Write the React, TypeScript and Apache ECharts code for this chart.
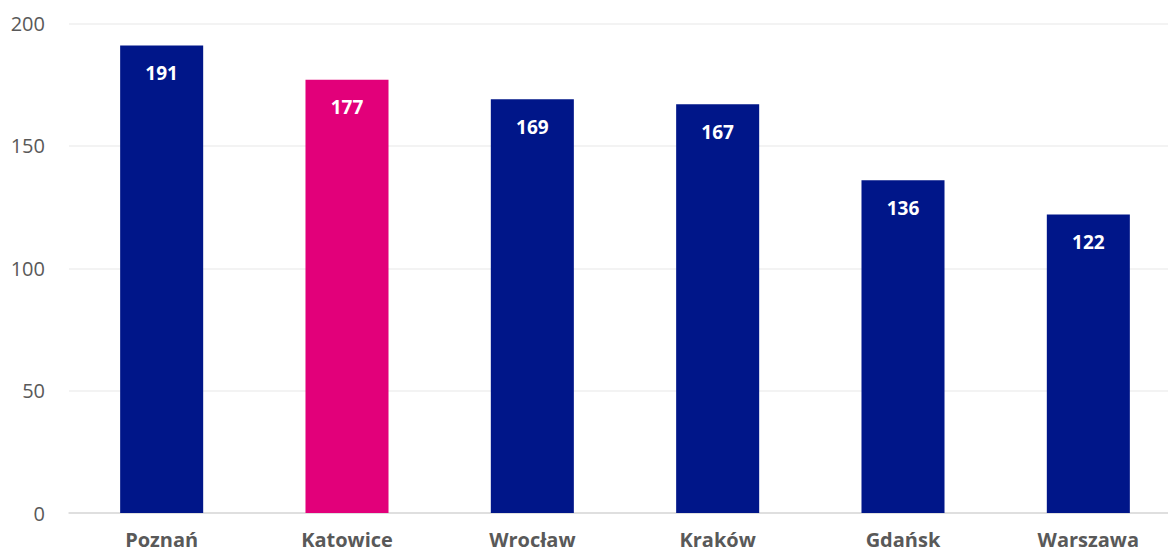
import React, { useEffect, useRef } from "react";
import * as echarts from "echarts";

const categories = ["Poznań", "Katowice", "Wrocław", "Kraków", "Gdańsk", "Warszawa"];
const values = [191, 177, 169, 167, 136, 122];
const highlight = "Katowice";
const yTicks = { min: 0, max: 200, interval: 50 };

export default function App() {
  const ref = useRef<HTMLDivElement>(null);
  useEffect(() => {
    const chart = echarts.init(ref.current!, undefined, { renderer: "svg" });
    chart.setOption({
      animation: false,
      grid: { left: 69, right: 0, top: 23.5, bottom: 41, containLabel: false },
      xAxis: {
        type: "category",
        data: categories,
        axisTick: { show: false },
        axisLine: { lineStyle: { color: "#d9d9d9", width: 1.5 } },
        axisLabel: {
          color: "#595959",
          fontWeight: "bold",
          fontSize: 20,
          fontFamily: "Open Sans",
          margin: 16,
        },
      },
      yAxis: {
        type: "value",
        min: yTicks.min,
        max: yTicks.max,
        interval: yTicks.interval,
        axisLabel: { color: "#595959", fontSize: 20, fontFamily: "Open Sans", margin: 24 },
        splitLine: { lineStyle: { color: "#efefef", width: 1.5 } },
      },
      series: [
        {
          type: "bar",
          barWidth: "44.8%",
          data: categories.map((c, i) => ({
            value: values[i],
            itemStyle: { color: c === highlight ? "#E2007A" : "#001689" },
          })),
          label: {
            show: true,
            position: "insideTop",
            distance: 18,
            color: "#ffffff",
            fontWeight: "bold",
            fontSize: 19,
            fontFamily: "Open Sans",
          },
        },
      ],
    });
    return () => chart.dispose();
  }, []);
  return (
    <div style={{ position: "absolute", left: 0, top: 0, width: 1168, height: 554, overflow: "hidden" }}>
      <div ref={ref} style={{ width: 1181, height: 554 }} />
    </div>
  );
}
